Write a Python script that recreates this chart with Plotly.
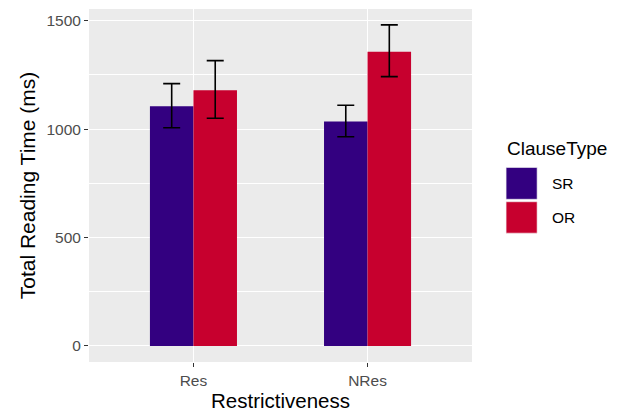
import plotly.graph_objects as go

# Data: mean total reading time with error-bar bounds
restrictiveness = ["Res", "NRes"]
clause_types = ["SR", "OR"]
sr_mean = [1105, 1035]
sr_lower = [1006, 965]
sr_upper = [1210, 1110]
or_mean = [1179, 1357]
or_lower = [1050, 1242]
or_upper = [1316, 1481]
y_ticks = [0, 500, 1000, 1500]

colors = {"SR": "#330080", "OR": "#C7002E"}
series = {
    "SR": (sr_mean, sr_lower, sr_upper),
    "OR": (or_mean, or_lower, or_upper),
}

fig = go.Figure()
for name in clause_types:
    mean, lo, hi = series[name]
    fig.add_trace(go.Bar(
        x=restrictiveness, y=mean, name=name,
        marker=dict(color=colors[name], line=dict(width=0)),
        error_y=dict(type="data", symmetric=False,
                     array=[h - m for h, m in zip(hi, mean)],
                     arrayminus=[m - l for m, l in zip(mean, lo)],
                     color="black", thickness=1.6, width=8.5),
        showlegend=False,
    ))

font = "Liberation Sans, Arial, sans-serif"
fig.update_layout(
    width=622, height=412,
    margin=dict(l=89, r=150, t=9, b=50),
    paper_bgcolor="white", plot_bgcolor="#EBEBEB",
    barmode="group", bargap=0.5, bargroupgap=0,
    font=dict(family=font, color="black"),
    xaxis=dict(
        range=[-0.6, 1.6], showgrid=True, gridcolor="white", gridwidth=1.4,
        ticks="outside", ticklen=4, tickwidth=1.2, tickcolor="#333333",
        tickfont=dict(size=15.5, color="#4D4D4D"),
        title=dict(text="Restrictiveness", font=dict(size=20.5), standoff=5),
        zeroline=False, automargin=False,
    ),
    yaxis=dict(
        range=[-74, 1554], tickvals=y_ticks, showgrid=True, gridcolor="white", gridwidth=1.4,
        minor=dict(dtick=250, tick0=0, showgrid=True, gridcolor="white", gridwidth=0.7, ticks=""),
        ticks="outside", ticklen=4, tickwidth=1.2, tickcolor="#333333",
        tickfont=dict(size=15.5, color="#4D4D4D"),
        title=dict(text="Total Reading Time (ms)", font=dict(size=21), standoff=5),
        zeroline=False, automargin=False,
    ),
)

# Legend drawn with large square keys
fig.add_annotation(text="ClauseType", xref="paper", yref="paper",
                   x=1.085, y=0.605, xanchor="left", yanchor="middle",
                   showarrow=False, font=dict(size=19))
key_x0, key_x1 = 1.089, 1.170
key_rows = [(0.551, 0.461), (0.454, 0.365)]
for name, (top, bot) in zip(clause_types, key_rows):
    fig.add_shape(type="rect", xref="paper", yref="paper",
                  x0=key_x0, x1=key_x1, y0=bot, y1=top,
                  fillcolor=colors[name], line=dict(width=0.6, color="#F2F2F2"))
    fig.add_annotation(text=name, xref="paper", yref="paper",
                       x=key_x1 + 0.033, y=(top + bot) / 2, xanchor="left", yanchor="middle",
                       showarrow=False, font=dict(size=15.5))

fig.write_html("out.html")
